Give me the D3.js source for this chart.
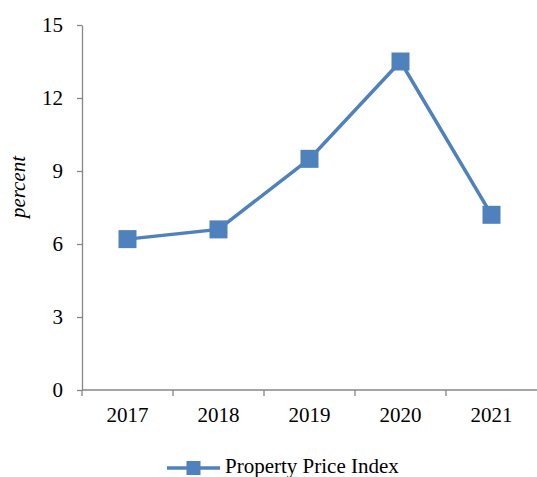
<!DOCTYPE html>
<html>
<head>
	<meta charset="utf-8">
	<style>
		body { margin: 0; background: #fff; }
		svg { display: block; font-family: 'Liberation Serif', 'Times New Roman', serif; }
		.axis path, .axis line { stroke: #868686; stroke-width: 1.3; }
		.axis text { font-size: 21px; fill: #000; font-family: 'Liberation Serif', serif; }
	</style>
	<script src="https://cdn.jsdelivr.net/npm/d3@7"></script>
</head>
<body>
	<script>
		var years = ["2017", "2018", "2019", "2020", "2021"];
		var priceIndex = [6.2, 6.6, 9.5, 13.5, 7.2];
		var yTicks = [0, 3, 6, 9, 12, 15];
		var seriesName = "Property Price Index";

		var W = 537, H = 477;
		var margin = { top: 25, right: 0, bottom: 87, left: 82 };
		var color = "#4f81bd";

		var svg = d3.select("body").append("svg")
			.attr("width", W)
			.attr("height", H);

		var x = d3.scaleBand()
			.domain(years)
			.range([margin.left, W - margin.right]);

		var y = d3.scaleLinear()
			.domain([0, 15])
			.range([H - margin.bottom, margin.top]);

		// y axis
		var yAxis = svg.append("g")
			.attr("class", "axis")
			.attr("transform", "translate(" + margin.left + ",0)")
			.call(d3.axisLeft(y).tickValues(yTicks).tickSize(5).tickPadding(14).tickSizeOuter(0));
		yAxis.selectAll("text").attr("dy", "0.33em");

		// x axis, ticks on band boundaries
		var xAxis = svg.append("g")
			.attr("class", "axis")
			.attr("transform", "translate(0," + y(0) + ")");
		xAxis.append("line")
			.attr("x1", margin.left).attr("x2", W - margin.right)
			.attr("y1", 0).attr("y2", 0);
		xAxis.selectAll(".bt")
			.data(years)
			.enter().append("line")
			.attr("x1", d => x(d)).attr("x2", d => x(d))
			.attr("y1", 0).attr("y2", 6);
		xAxis.selectAll(".lbl")
			.data(years)
			.enter().append("text")
			.attr("x", d => x(d) + x.bandwidth() / 2)
			.attr("y", 32)
			.attr("text-anchor", "middle")
			.text(d => d);

		// y label
		svg.append("text")
			.attr("transform", "translate(25," + 187 + ") rotate(-90)")
			.attr("text-anchor", "middle")
			.style("font-style", "italic")
			.style("font-size", "21px")
			.text("percent");

		var data = years.map((d, i) => ({ year: d, value: priceIndex[i] }));

		var line = d3.line()
			.x(d => x(d.year) + x.bandwidth() / 2)
			.y(d => y(d.value));

		svg.append("path")
			.datum(data)
			.attr("fill", "none")
			.attr("stroke", color)
			.attr("stroke-width", 3.5)
			.attr("d", line);

		var ms = 18;
		svg.selectAll(".marker")
			.data(data)
			.enter().append("rect")
			.attr("x", d => x(d.year) + x.bandwidth() / 2 - ms / 2)
			.attr("y", d => y(d.value) - ms / 2)
			.attr("width", ms)
			.attr("height", ms)
			.attr("fill", color);

		// legend
		var lg = svg.append("g").attr("transform", "translate(167,468)");
		lg.append("line")
			.attr("x1", 0).attr("x2", 53)
			.attr("stroke", color).attr("stroke-width", 3.5);
		lg.append("rect")
			.attr("x", 26.5 - 7).attr("y", -7)
			.attr("width", 14).attr("height", 14)
			.attr("fill", color);
		lg.append("text")
			.attr("x", 58)
			.attr("y", 5)
			.style("font-size", "21px")
			.text(seriesName);
	</script>
</body>
</html>
